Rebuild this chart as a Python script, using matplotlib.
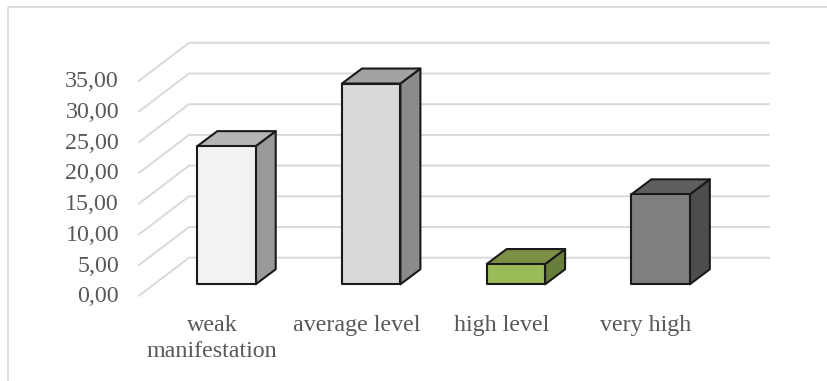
import matplotlib
matplotlib.use("Agg")
import matplotlib.pyplot as plt
from matplotlib.patches import Polygon

categories = ["weak\nmanifestation", "average level", "high level", "very high"]
values = [22.5, 32.7, 3.3, 14.65]
front_colors = ["#F2F2F2", "#D9D9D9", "#9BBB59", "#7F7F7F"]
side_colors = ["#999999", "#8B8B8B", "#687F3C", "#4D4D4D"]
top_colors = ["#B5B5B5", "#A3A3A3", "#7C9045", "#5F5F5F"]
y_ticks = [0, 5, 10, 15, 20, 25, 30, 35]

FIG_W, FIG_H = 827, 381
CAT_STEP = 144.7        # pixels between neighbouring categories
UNIT = 6.14             # pixels per value unit
ORIGIN_X, ORIGIN_Y = 226.5, 284.3   # base centre of the first bar, from the top left
HALF_W = 29.2 / CAT_STEP            # half bar width in category units
FONT = "Liberation Serif"
FONT_SIZE = 17.3
TEXT_COLOR = "#595959"

# Oblique projection of the 3D box, in data units
BAR_DX, BAR_DY = 20 / CAT_STEP, 15 / UNIT
WALL_X0, WALL_X1 = (189 - ORIGIN_X) / CAT_STEP, (769 - ORIGIN_X) / CAT_STEP
WALL_LIFT = (ORIGIN_Y - 257.7) / UNIT
FLOOR_DX, FLOOR_DY = 50 / CAT_STEP, 38 / UNIT

fig = plt.figure(figsize=(FIG_W / 100, FIG_H / 100), dpi=100)
ax = fig.add_axes([0, 0, 1, 1])
ax.set_xlim(-ORIGIN_X / CAT_STEP, (FIG_W - ORIGIN_X) / CAT_STEP)
ax.set_ylim(-(FIG_H - ORIGIN_Y) / UNIT, ORIGIN_Y / UNIT)
ax.axis("off")

# Chart frame: only the top and left edges fall inside the image
frame = "#D9D9D9"
x_left = ax.get_xlim()[0] + 8 / CAT_STEP
y_top = ax.get_ylim()[1] - 7 / UNIT
ax.plot([x_left, x_left], [ax.get_ylim()[0], y_top], color=frame, lw=1.3, solid_capstyle="butt")
ax.plot([x_left, ax.get_xlim()[1]], [y_top, y_top], color=frame, lw=1.3, solid_capstyle="butt")

# Gridlines run across the floor edge and along the back wall
for v in y_ticks:
    back = v + WALL_LIFT
    ax.plot([WALL_X0 - FLOOR_DX, WALL_X0, WALL_X1],
            [back - FLOOR_DY, back, back],
            color="#D9D9D9", lw=1.4, solid_joinstyle="miter", zorder=1)
    ax.text(WALL_X0 - FLOOR_DX - 20 / CAT_STEP, back - FLOOR_DY - 1 / UNIT,
            f"{v:.2f}".replace(".", ","),
            ha="right", va="center", family=FONT, fontsize=FONT_SIZE, color=TEXT_COLOR)

# Boxes: front face, side face and lid
for i, (val, fc, sc, tc) in enumerate(zip(values, front_colors, side_colors, top_colors)):
    l, r = i - HALF_W, i + HALF_W
    front = [(l, 0), (r, 0), (r, val), (l, val)]
    side = [(r, 0), (r + BAR_DX, BAR_DY), (r + BAR_DX, val + BAR_DY), (r, val)]
    top = [(l, val), (r, val), (r + BAR_DX, val + BAR_DY), (l + BAR_DX, val + BAR_DY)]
    for pts, col in ((side, sc), (top, tc), (front, fc)):
        ax.add_patch(Polygon(pts, closed=True, facecolor=col, edgecolor="#1A1A1A",
                             lw=1.5, joinstyle="round", zorder=3))

# Category labels sit below the floor, left of each box centre
label_shift = 14.5 / CAT_STEP
label_y = -(315 - ORIGIN_Y) / UNIT
for i, name in enumerate(categories):
    ax.text(i - label_shift, label_y, name, ha="center", va="top",
            family=FONT, fontsize=FONT_SIZE, color=TEXT_COLOR, linespacing=1.3)

fig.savefig("out.png", dpi=100)
